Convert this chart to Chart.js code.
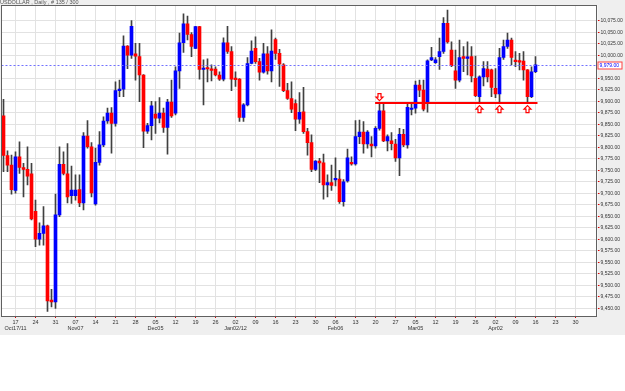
<!DOCTYPE html>
<html>
<head>
<meta charset="utf-8">
<script src="https://cdn.jsdelivr.net/npm/chart.js@4.4.1/dist/chart.umd.min.js"></script>
<style>
  html, body { margin: 0; padding: 0; background: #ffffff; }
  #wrap { width: 625px; height: 335px; }
</style>
</head>
<body>
<div id="wrap"><canvas id="usdChart" width="625" height="335"></canvas></div>
<script>
// USDOLLAR daily candles, 12 Oct 2011 -> 16 Apr 2012 (one value per trading day)
const opens = [
  9868, 9782, 9761, 9706, 9779, 9756, 9752, 9742, 9661, 9600,
  9613, 9629, 9468, 9464, 9653, 9763, 9742, 9695, 9695, 9708,
  9679, 9824, 9801, 9677, 9767, 9805, 9857, 9874, 9852, 9923,
  9926, 10020, 10000, 10003, 9997, 9957, 9835, 9847, 9872, 9863,
  9874, 9843, 9898, 9874, 9966, 10027, 10068, 10045, 10015, 10062,
  9969, 9972, 9970, 9970, 9957, 9948, 10027, 10008, 9950, 9948,
  9865, 9892, 9982, 10015, 9986, 9963, 10003, 9966, 10034, 10004,
  9979, 9923, 9906, 9895, 9861, 9877, 9834, 9810, 9752, 9770,
  9766, 9718, 9723, 9729, 9731, 9682, 9727, 9767, 9764, 9823,
  9833, 9807, 9807, 9803, 9841, 9879, 9814, 9814, 9807, 9777,
  9828, 9805, 9882, 9885, 9935, 9924, 9898, 9990, 9984, 9997,
  10008, 10069, 10011, 9966, 9946, 9997, 9993, 9997, 9950, 9910,
  9953, 9970, 9968, 9928, 9916, 9995, 10019, 10033, 9987, 9987,
  9987, 9968, 9910, 9964
];
const highs = [
  9904, 9792, 9783, 9790, 9812, 9765, 9801, 9765, 9685, 9636,
  9671, 9631, 9491, 9698, 9801, 9790, 9808, 9759, 9740, 9740,
  9832, 9858, 9810, 9798, 9834, 9866, 9885, 9886, 9942, 9946,
  10042, 10021, 10075, 10026, 10026, 9958, 9852, 9900, 9899, 9908,
  9885, 9904, 9946, 9975, 10048, 10090, 10085, 10049, 10063, 10063,
  9990, 9992, 9979, 9975, 9964, 10038, 10063, 10019, 9964, 9949,
  9895, 9995, 10031, 10040, 9993, 10026, 10019, 10055, 10037, 10013,
  9982, 9939, 9942, 9903, 9919, 9930, 9841, 9827, 9771, 9776,
  9785, 9740, 9761, 9777, 9750, 9730, 9796, 9779, 9858, 9859,
  9856, 9836, 9823, 9845, 9897, 9893, 9827, 9832, 9817, 9841,
  9839, 9897, 9894, 9944, 9946, 9946, 9990, 10017, 9995, 10037,
  10082, 10098, 10029, 10011, 10033, 10019, 10029, 10019, 9998, 9955,
  9986, 9986, 9970, 9971, 10015, 10033, 10048, 10037, 10008, 10004,
  10008, 9969, 9975, 9997
];
const lows = [
  9747, 9747, 9698, 9700, 9743, 9692, 9718, 9642, 9584, 9587,
  9587, 9443, 9453, 9450, 9649, 9740, 9679, 9678, 9685, 9671,
  9664, 9798, 9692, 9674, 9761, 9801, 9852, 9787, 9846, 9910,
  9910, 9971, 9993, 9946, 9899, 9799, 9830, 9816, 9830, 9853,
  9832, 9785, 9865, 9870, 9928, 10006, 10033, 9997, 10014, 9948,
  9892, 9942, 9944, 9955, 9945, 9944, 10004, 9923, 9932, 9856,
  9856, 9890, 9981, 9982, 9946, 9961, 9959, 9942, 9991, 9932,
  9921, 9904, 9875, 9836, 9852, 9830, 9783, 9747, 9749, 9723,
  9687, 9692, 9706, 9716, 9678, 9672, 9724, 9761, 9761, 9808,
  9787, 9798, 9779, 9798, 9837, 9812, 9792, 9794, 9769, 9738,
  9801, 9798, 9870, 9874, 9910, 9879, 9876, 9988, 9982, 9969,
  10004, 10026, 9975, 9928, 9942, 9964, 9957, 9942, 9910, 9899,
  9933, 9942, 9910, 9908, 9899, 9991, 10015, 9979, 9975, 9968,
  9946, 9899, 9908, 9962
];
const closes = [
  9782, 9761, 9708, 9779, 9756, 9752, 9737, 9644, 9600, 9613,
  9629, 9466, 9464, 9653, 9763, 9743, 9692, 9707, 9707, 9679,
  9824, 9801, 9701, 9767, 9805, 9857, 9874, 9852, 9923, 9926,
  10020, 10000, 10063, 9998, 9957, 9835, 9847, 9890, 9863, 9874,
  9843, 9898, 9868, 9966, 10027, 10068, 10045, 10019, 10062, 9969,
  9972, 9970, 9967, 9957, 9948, 10027, 10008, 9948, 9947, 9865,
  9892, 9982, 10009, 9986, 9963, 10003, 9966, 10009, 10004, 9981,
  9923, 9906, 9883, 9861, 9876, 9834, 9810, 9752, 9770, 9766,
  9718, 9723, 9717, 9731, 9682, 9725, 9777, 9764, 9823, 9833,
  9807, 9833, 9803, 9841, 9879, 9814, 9823, 9808, 9777, 9828,
  9805, 9887, 9885, 9935, 9924, 9883, 9988, 9995, 9990, 10008,
  10069, 10029, 9977, 9946, 9995, 9993, 9995, 9955, 9912, 9953,
  9971, 9953, 9930, 9916, 9995, 10019, 10033, 9995, 9986, 9985,
  9968, 9910, 9964, 9979
];

// weekly ticks (Mondays) and month captions under them
const dayTicks = ['17','24','31','07','14','21','28','05','12','19','26','02','09','16','23','30',
                  '06','13','20','27','05','12','19','26','02','09','16','23','30'];
const monthTicks = ['Oct17/11','','','Nov07','','','','Dec05','','','','Jan02/12','','','','',
                    'Feb06','','','','Mar05','','','','Apr02','','','',''];
const topPriceTick = 10075;
const hiddenPriceTick = 9975;

// support line drawn on the chart, and the bars marked with arrows (trading day number)
const supportLevel = 9896;
const supportFrom = 92.9, supportTo = 133.5;
const downArrows = [94];
const upArrows = [119, 124, 131];

// category axis: every weekday from 12 Oct 2011 to 4 May 2012
const days = [];
let d = new Date(Date.UTC(2011, 9, 12));
while (days.length < 149) {
  const wd = d.getUTCDay();
  if (wd !== 0 && wd !== 6) days.push(d.toISOString().slice(0, 10));
  d = new Date(d.getTime() + 86400000);
}
const firstMonday = 3;

const bodyColors = opens.map((o, i) => closes[i] >= o ? '#0000ff' : '#ff0000');
const lastClose = closes[closes.length - 1];
const fmt = v => v.toLocaleString('en-US', { minimumFractionDigits: 2, maximumFractionDigits: 2 });

const decorations = {
  id: 'decorations',
  beforeDraw(chart) {
    const c = chart.ctx, a = chart.chartArea;
    c.save();
    c.fillStyle = '#efefef';
    c.fillRect(0, 0, chart.width, chart.height);
    c.fillStyle = '#ffffff';
    c.fillRect(a.left, a.top, a.right - a.left, a.bottom - a.top);
    c.fillStyle = '#555555';
    c.font = '5.5px "Liberation Sans Narrow", "Liberation Sans", sans-serif';
    c.textBaseline = 'bottom';
    c.fillText('USDOLLAR , Daily , # 135 / 300', 0, 5);
    c.restore();
  },
  afterDatasetsDraw(chart) {
    const c = chart.ctx, a = chart.chartArea;
    const x = chart.scales.x, y = chart.scales.y;
    c.save();
    // last price dashed line
    const py = Math.round(y.getPixelForValue(lastClose)) + 0.5;
    c.strokeStyle = '#7070ff';
    c.lineWidth = 1;
    c.setLineDash([2, 2]);
    c.beginPath(); c.moveTo(a.left, py); c.lineTo(a.right, py); c.stroke();
    c.setLineDash([]);
    // support line
    const sy = y.getPixelForValue(supportLevel);
    c.strokeStyle = '#ff0000';
    c.lineWidth = 2;
    c.beginPath();
    c.moveTo(x.getPixelForValue(supportFrom), sy);
    c.lineTo(x.getPixelForValue(supportTo), sy);
    c.stroke();
    // arrows
    const arrow = (cx, tip, dir) => {
      const h = 7, hw = 3.5, sw = 1.5, hh = 3.5;
      c.beginPath();
      c.moveTo(cx, tip);
      c.lineTo(cx + hw, tip + dir * hh);
      c.lineTo(cx + sw, tip + dir * hh);
      c.lineTo(cx + sw, tip + dir * h);
      c.lineTo(cx - sw, tip + dir * h);
      c.lineTo(cx - sw, tip + dir * hh);
      c.lineTo(cx - hw, tip + dir * hh);
      c.closePath();
      c.fillStyle = '#ffffff'; c.fill();
      c.strokeStyle = '#ff0000'; c.lineWidth = 1.2; c.stroke();
    };
    downArrows.forEach(i => arrow(x.getPixelForValue(i), sy - 2.5, -1));
    upArrows.forEach(i => arrow(x.getPixelForValue(i), sy + 2.5, 1));
    // frame
    c.strokeStyle = '#606060';
    c.lineWidth = 1;
    c.strokeRect(Math.floor(a.left) + 0.5, Math.floor(a.top) + 0.5,
                 Math.round(a.right - a.left) - 1, Math.round(a.bottom - a.top));
    // current price box
    c.strokeStyle = '#ff4040';
    c.fillStyle = '#ffffff';
    c.fillRect(a.right + 0.5, py - 3.5, 24, 7);
    c.strokeRect(a.right + 0.5, py - 3.5, 24, 7);
    c.fillStyle = '#0000ff';
    c.font = '5px "Liberation Sans", sans-serif';
    c.textBaseline = 'middle';
    c.fillText(fmt(lastClose), a.right + 2, py + 0.5);
    c.restore();
  }
};

const ctx = document.getElementById('usdChart').getContext('2d');
new Chart(ctx, {
  type: 'bar',
  data: {
    labels: days,
    datasets: [
      {
        label: 'range',
        data: lows.map((l, i) => [l, highs[i]]),
        backgroundColor: '#404040',
        barThickness: 1,
        grouped: false,
        order: 2
      },
      {
        label: 'body',
        data: opens.map((o, i) => [o, closes[i]]),
        backgroundColor: bodyColors,
        barThickness: 3,
        minBarLength: 1.5,
        grouped: false,
        order: 1
      }
    ]
  },
  options: {
    responsive: false,
    animation: false,
    layout: { padding: { left: 1.5, top: 5, right: 0, bottom: 0 } },
    plugins: { legend: { display: false }, tooltip: { enabled: false } },
    scales: {
      x: {
        offset: true,
        grid: { offset: false, color: '#e2e2e2', tickColor: '#e00000', tickLength: 2, drawTicks: true },
        border: { display: false },
        afterFit(scale) { scale.height = 19; },
        ticks: {
          autoSkip: false,
          maxRotation: 0,
          padding: 1,
          color: '#333333',
          font: { family: '"Liberation Sans Narrow", "Liberation Sans", sans-serif', size: 5.5, lineHeight: 1.1 },
          callback(value, index) {
            const k = (index - firstMonday) / 5;
            if (!Number.isInteger(k) || k < 0 || k >= dayTicks.length) return null;
            return monthTicks[k] ? [dayTicks[k], monthTicks[k]] : dayTicks[k];
          }
        }
      },
      y: {
        position: 'right',
        min: 9433.3,
        max: 10109.1,
        grid: { color: '#e2e2e2', tickColor: '#e00000', tickLength: 2 },
        border: { display: false },
        afterFit(scale) { scale.width = 27.5; },
        ticks: {
          stepSize: 25,
          includeBounds: false,
          padding: 1,
          color: '#333333',
          font: { family: '"Liberation Sans", sans-serif', size: 5 },
          callback(value) {
            if (value > topPriceTick || value === hiddenPriceTick) return null;
            return fmt(value);
          }
        }
      }
    }
  },
  plugins: [decorations]
});
</script>
</body>
</html>
